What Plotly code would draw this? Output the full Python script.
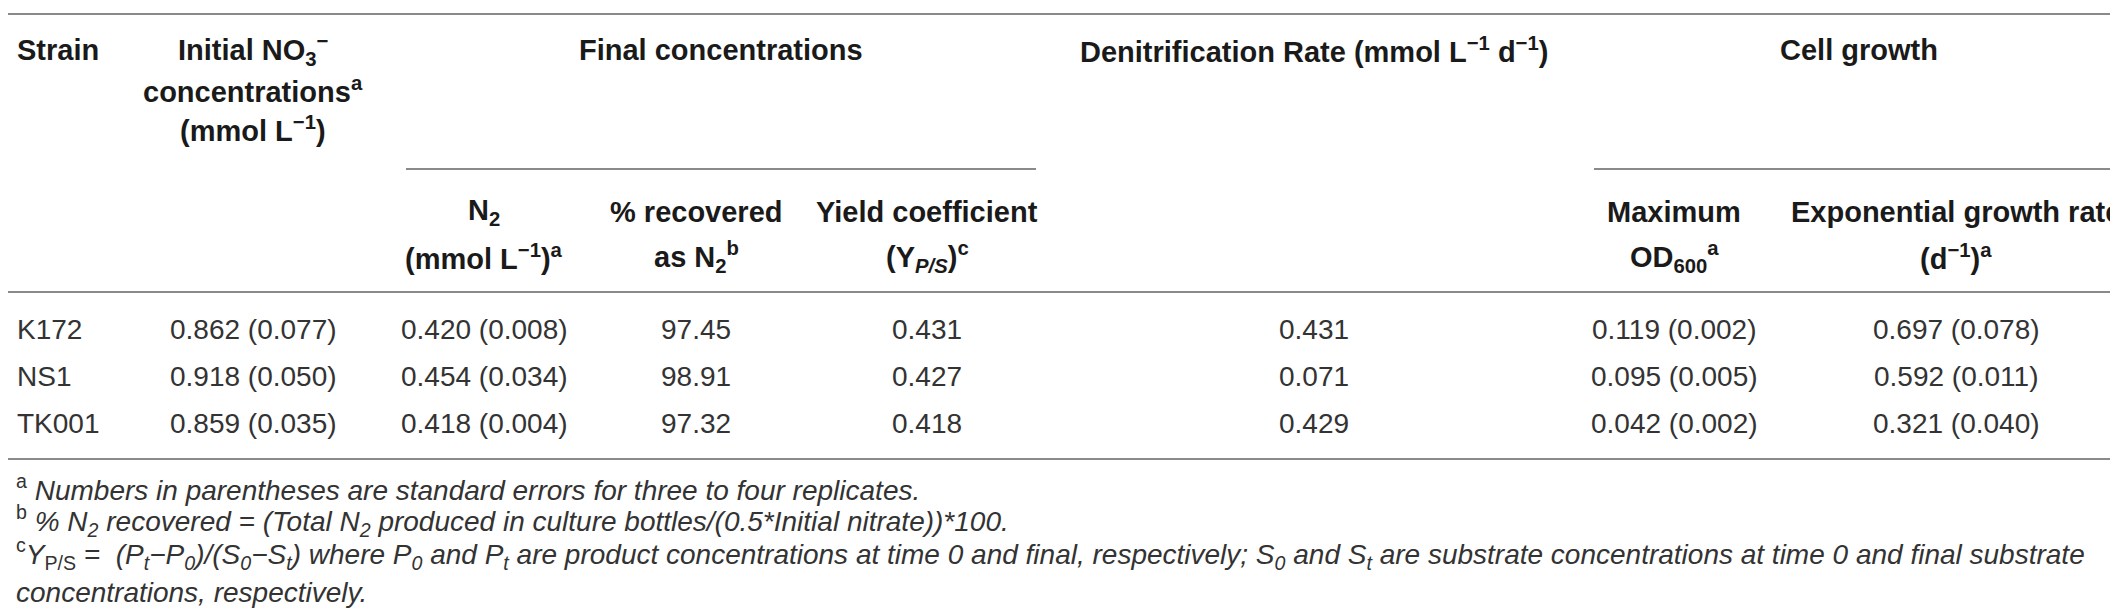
# Denitrification table: strains K172, NS1, TK001
import plotly.graph_objects as go

strains = ["K172", "NS1", "TK001"]
initial_no3 = [0.862, 0.918, 0.859]
initial_no3_se = [0.077, 0.050, 0.035]
final_n2 = [0.420, 0.454, 0.418]
final_n2_se = [0.008, 0.034, 0.004]
pct_recovered = [97.45, 98.91, 97.32]
yield_coef = [0.431, 0.427, 0.418]
denit_rate = [0.431, 0.071, 0.429]
max_od600 = [0.119, 0.095, 0.042]
max_od600_se = [0.002, 0.005, 0.002]
growth_rate = [0.697, 0.592, 0.321]
growth_rate_se = [0.078, 0.011, 0.040]

footnotes = [
    "<sup>a</sup> <i>Numbers in parentheses are standard errors for three to four replicates.</i>",
    "<sup>b</sup> <i>% N<sub>2</sub> recovered = (Total N<sub>2</sub> produced in culture bottles/(0.5*Initial nitrate))*100.</i>",
    "<sup>c</sup><i>Y</i><sub>P/S</sub> <i>=  (P<sub>t</sub>−P<sub>0</sub>)/(S<sub>0</sub>−S<sub>t</sub>) where P<sub>0</sub> and P<sub>t</sub> "
    "are product concentrations at time 0 and final, respectively; S<sub>0</sub> and S<sub>t</sub> are substrate "
    "concentrations at time 0 and final substrate</i>",
    "<i>concentrations, respectively.</i>",
]

W, H = 2118, 612
FONT = "Liberation Sans, Arial, Helvetica, sans-serif"
HEAD_COLOR = "#1a1a1a"
BODY_COLOR = "#333333"
LINE_COLOR = "#8a8a8a"

# column centres (pixel coords)
col_x = {"strain": 7, "init": 245, "n2": 476, "pct": 688, "yield": 919,
         "denit": 1306, "od": 1666, "grow": 1948}
row_y = [321, 368, 415]

fig = go.Figure()


def txt(x, y, s, anchor="center", size=28, color=BODY_COLOR):
    fig.add_annotation(x=x, y=y, text=s, showarrow=False, xanchor=anchor, yanchor="middle",
                       font=dict(family=FONT, size=size, color=color))


def head(x, y, s, anchor="center"):
    txt(x, y, "<b>" + s + "</b>", anchor=anchor, size=29, color=HEAD_COLOR)


def hline(x0, x1, y, w=2):
    fig.add_shape(type="line", x0=x0, x1=x1, y0=y, y1=y, line=dict(color=LINE_COLOR, width=w))


# header
head(col_x["strain"], 42, "Strain", anchor="left")
head(col_x["init"], 42, "Initial NO<sub>3</sub><sup>−</sup>")
head(col_x["init"], 82, "concentrations<sup>a</sup>")
head(col_x["init"], 121, "(mmol L<sup>−1</sup>)")
head(713, 42, "Final concentrations")
head(col_x["denit"], 42, "Denitrification Rate (mmol L<sup>−1</sup> d<sup>−1</sup>)")
head(1851, 42, "Cell growth")

sub_heads = [
    ("n2", "N<sub>2</sub>", "(mmol L<sup>−1</sup>)<sup>a</sup>"),
    ("pct", "% recovered", "as N<sub>2</sub><sup>b</sup>"),
    ("yield", "Yield coefficient", "(Y<sub><i>P/S</i></sub>)<sup>c</sup>"),
    ("od", "Maximum", "OD<sub>600</sub><sup>a</sup>"),
    ("grow", "Exponential growth rate", "(d<sup>−1</sup>)<sup>a</sup>"),
]
for key, l1, l2 in sub_heads:
    head(col_x[key], 204, l1)
    head(col_x[key], 249, l2)

# rules
hline(0, W, 6)
hline(398, 1028, 161)
hline(1586, W, 161)
hline(0, W, 284)
hline(0, W, 451)

# body
for i, y in enumerate(row_y):
    txt(col_x["strain"], y, strains[i], anchor="left")
    txt(col_x["init"], y, f"{initial_no3[i]:.3f} ({initial_no3_se[i]:.3f})")
    txt(col_x["n2"], y, f"{final_n2[i]:.3f} ({final_n2_se[i]:.3f})")
    txt(col_x["pct"], y, f"{pct_recovered[i]:.2f}")
    txt(col_x["yield"], y, f"{yield_coef[i]:.3f}")
    txt(col_x["denit"], y, f"{denit_rate[i]:.3f}")
    txt(col_x["od"], y, f"{max_od600[i]:.3f} ({max_od600_se[i]:.3f})")
    txt(col_x["grow"], y, f"{growth_rate[i]:.3f} ({growth_rate_se[i]:.3f})")

# footnotes
for s, y in zip(footnotes, [480, 513, 546, 584]):
    txt(6, y, s, anchor="left", size=28)

fig.update_layout(
    width=W, height=H, margin=dict(l=0, r=0, t=0, b=0),
    paper_bgcolor="white", plot_bgcolor="white", showlegend=False,
    xaxis=dict(range=[0, W], visible=False, fixedrange=True),
    yaxis=dict(range=[H, 0], visible=False, fixedrange=True),
)

fig.write_html("out.html")
